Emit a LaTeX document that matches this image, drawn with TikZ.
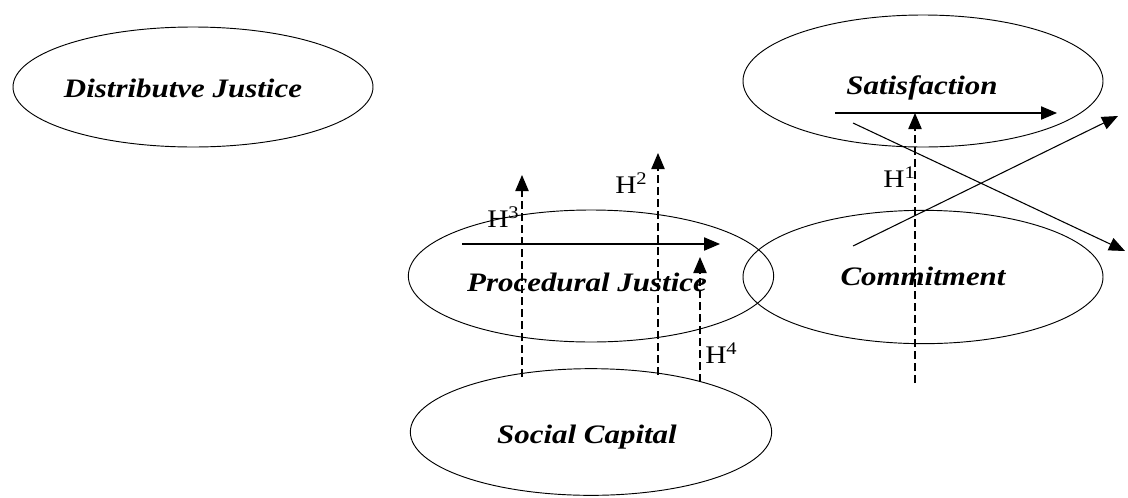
\documentclass[tikz,border=0pt]{standalone}
\usepackage{fontspec}
\setmainfont{Liberation Serif}
\newfontfamily\widefont[FakeStretch=1.16]{Liberation Serif}
\usetikzlibrary{shapes.geometric,arrows.meta}
\tikzset{construct/.style={draw,ellipse,inner sep=0pt,line width=0.7pt}}
\tikzset{clabel/.style={inner sep=0pt,font=\widefont\fontsize{20}{22}\selectfont\bfseries\itshape}}
\tikzset{hyp/.style={draw,-{Triangle[length=12pt,width=10pt]},line width=0.8pt}}
\tikzset{hypdash/.style={hyp,dash pattern=on 6pt off 3pt}}
\tikzset{hlabel/.style={font=\widefont\fontsize{19}{21}\selectfont,inner sep=0pt,anchor=base west}}

\begin{document}
\begin{tikzpicture}[x=0.75pt,y=-0.75pt]
        \useasboundingbox (0,0) rectangle (1128,497);
        % constructs
        \node[construct,minimum width=270pt,minimum height=90pt] (dj) at (193,87) {};
        \node[clabel] (djtext) at (183,88) {Distributve Justice};
        \node[construct,minimum width=270pt,minimum height=99pt] (sat) at (923,81) {};
        \node[clabel] (sattext) at (922,88) {Satisfaction};
        \node[construct,minimum width=270pt,minimum height=100pt] (com) at (923,277) {};
        \node[clabel] (comtext) at (923,276) {Commitment};
        \node[construct,minimum width=274pt,minimum height=99pt] (pj) at (591,276) {};
        \node[clabel] (pjtext) at (587,282) {Procedural Justice};
        \node[construct,minimum width=271pt,minimum height=95pt] (sc) at (591,432) {};
        \node[clabel] (sctext) at (587,437) {Social Capital};
        % hypotheses
        \coordinate (h3s) at (522,377);
        \coordinate (h3e) at (522,175);
            \path[hypdash] (h3s) -- (h3e);
        \coordinate (h2s) at (658,375);
        \coordinate (h2e) at (658,153);
            \path[hypdash] (h2s) -- (h2e);
        \coordinate (h4s) at (700,382);
        \coordinate (h4e) at (700,257);
            \path[hypdash] (h4s) -- (h4e);
        \coordinate (h1s) at (915,383);
        \coordinate (h1e) at (915,113);
            \path[hypdash] (h1s) -- (h1e);
        \node[hlabel] (h3) at (487,227) {H\textsuperscript{3}};
        \node[hlabel] (h2) at (615,193) {H\textsuperscript{2}};
        \node[hlabel] (h4) at (705,363) {H\textsuperscript{4}};
        \node[hlabel] (h1) at (883,187) {H\textsuperscript{1}};
        % effects
        \coordinate (pjs) at (462,244);
        \coordinate (pje) at (720,244);
            \path[hyp] (pjs) -- (pje);
        \coordinate (sats) at (835,113);
        \coordinate (sate) at (1057,113);
            \path[hyp] (sats) -- (sate);
        \coordinate (d1s) at (853,123);
        \coordinate (d1e) at (1125,251);
            \path[hyp] (d1s) -- (d1e);
        \coordinate (d2s) at (853,246);
        \coordinate (d2e) at (1118,116);
            \path[hyp] (d2s) -- (d2e);
    \end{tikzpicture}
\end{document}
